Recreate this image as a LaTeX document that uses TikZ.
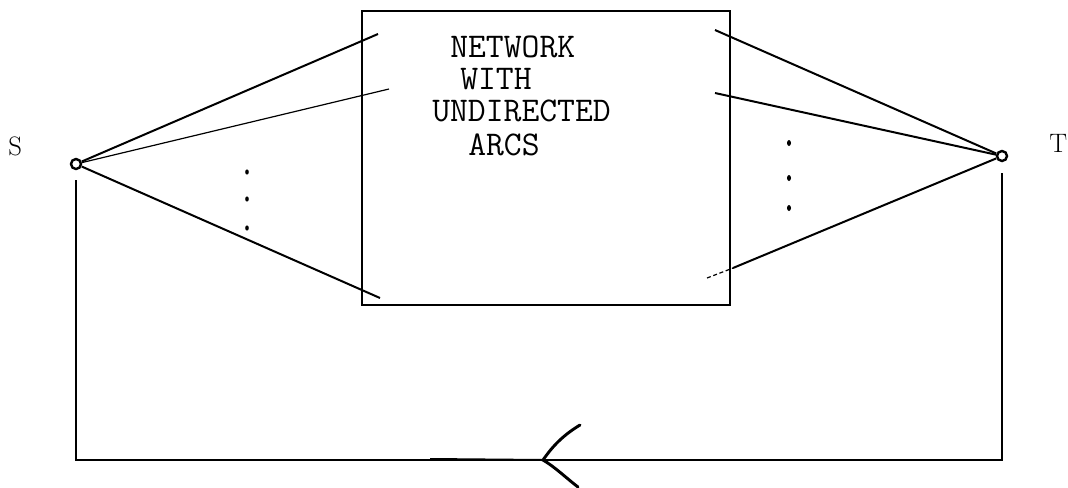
\documentclass[tikz,border=0pt]{standalone}
\usepackage{fontspec}
\usepackage{tikz}

\begin{document}
\begin{tikzpicture}[x=0.75pt,y=0.75pt,yscale=-1,xscale=1,
  term/.style={circle,draw,line width=1.8pt,inner sep=0pt,minimum size=7.5pt},
  arc/.style={line width=1.5pt},
  thinarc/.style={line width=0.9pt},
  frame/.style={line width=0.9pt},
  boxtext/.style={anchor=base west,inner sep=0pt,text height=0.62em,text depth=0pt,font=\ttfamily\fontsize{26}{30}\selectfont},
  endlabel/.style={anchor=base west,inner sep=0pt,font=\fontsize{20}{24}\selectfont}]
%set diagram left start at 0, and has height of 487
\useasboundingbox (0,0) rectangle (1068,487);

%Terminal nodes
\node [term] (S) at (76,164) {};
\node [term] (T) at (1002,156) {};

%Network box
\coordinate (nw) at (362,11);
\coordinate (se) at (730,305);
\draw [frame] (nw) rectangle (se);

%Free ends of the arcs inside the box
\coordinate (a1) at (378,34);
\coordinate (a2) at (389,89);
\coordinate (a3) at (380,298);
\coordinate (b1) at (715,30);
\coordinate (b2) at (715,93);
\coordinate (b3) at (733,268);
\coordinate (b4) at (707,278);

%Straight Lines
\draw [arc] (S) -- (a1) ;
\draw [thinarc] (S) -- (a2) ;
\draw [arc] (S) -- (a3) ;
\draw [arc] (b1) -- (T) ;
\draw [arc] (b2) -- (T) ;
\draw [arc] (b3) -- (T) ;
\draw [thinarc,dash pattern={on 3pt off 2pt}] (b4) -- (b3) ;

%Dots
\foreach \y in {172,199,228} \fill (247,\y) ellipse (1.8 and 2.6);
\foreach \y in {143,178,208} \fill (789,\y) ellipse (2 and 3);

%Return line
\coordinate (s0) at (76,180);
\coordinate (t0) at (1002,173);
\coordinate (lo) at (76,460);
\draw [frame] (s0) -- (lo) -| (t0) ;
\coordinate (tip) at (543,460);
\coordinate (tail) at (430,459);
\draw [line width=1.5pt] (tail) -- (tip) ;
\draw [line width=2.2pt,line cap=round] (580,425) .. controls (560,437) and (550,450) .. (tip) .. controls (555,467) and (565,477) .. (578,487) ;

% Text Node
\node [endlabel] (Slab) at (8,155) {S};
% Text Node
\node [endlabel] (Tlab) at (1049,152) {T};
% Text Node
\node [boxtext] (l1) at (450,57) {NETWORK};
% Text Node
\node [boxtext] (l2) at (460,89) {WITH};
% Text Node
\node [boxtext] (l3) at (432,121) {UNDIRECTED};
% Text Node
\node [boxtext] (l4) at (468,155) {ARCS};

\end{tikzpicture}
\end{document}
